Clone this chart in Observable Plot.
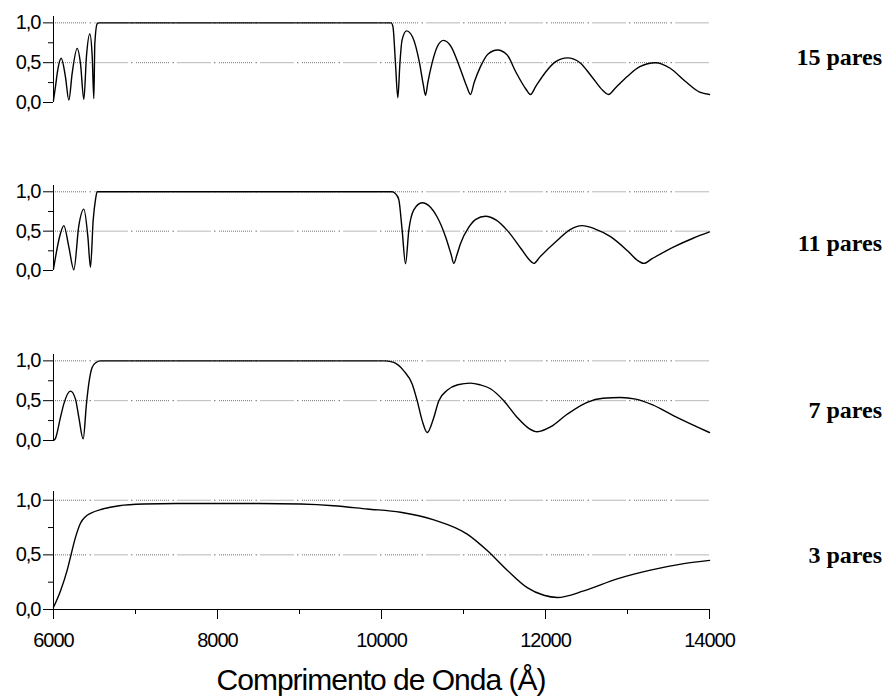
<!DOCTYPE html>
<html><head><meta charset="utf-8">
<script src="https://cdn.jsdelivr.net/npm/d3@7"></script>
<script src="https://cdn.jsdelivr.net/npm/@observablehq/plot@0.6"></script>
<style>
body{margin:0;background:#fff;}
#chart{position:relative;width:891px;height:697px;background:#fff;overflow:hidden;}
#chart svg{position:absolute;left:0;}
.lab{position:absolute;right:9px;font-family:"Liberation Serif","Times New Roman",serif;font-weight:bold;font-size:24px;line-height:24px;color:#000;white-space:nowrap;}
.xtitle{position:absolute;left:131px;width:500px;text-align:center;font-family:"Liberation Sans",Arial,sans-serif;font-size:30px;letter-spacing:-1px;line-height:34px;color:#000;}
</style></head><body><div id="chart"></div>
<script>
// ---- data (wavelength in Å, reflectance) ----
const wl15 = [6000, 6024, 6052, 6094, 6146, 6187, 6228, 6289, 6329, 6370, 6402, 6443, 6472, 6492, 6504, 6533, 6553,
  10118, 10140, 10170, 10199, 10225, 10250, 10305, 10380, 10463, 10510, 10537, 10565, 10618, 10680, 10756, 10850, 10951, 11040, 11085, 11130, 11207, 11300, 11415, 11530, 11640, 11760, 11817, 11880, 12000, 12120, 12268, 12420, 12560, 12700, 12768, 12850, 13000, 13150, 13341, 13520, 13700, 13880, 14000];
const r15 = [0.03, 0.20, 0.41, 0.555, 0.32, 0.03, 0.37, 0.68, 0.49, 0.04, 0.58, 0.86, 0.58, 0.05, 0.74, 0.99, 1.0,
  1.0, 0.95, 0.5, 0.06, 0.5, 0.78, 0.90, 0.82, 0.5, 0.22, 0.09, 0.25, 0.5, 0.70, 0.78, 0.70, 0.45, 0.2, 0.10, 0.25, 0.45, 0.61, 0.66, 0.60, 0.38, 0.17, 0.10, 0.2, 0.38, 0.51, 0.56, 0.50, 0.33, 0.15, 0.10, 0.18, 0.33, 0.45, 0.50, 0.43, 0.27, 0.13, 0.10];

const wl11 = [6000, 6085, 6126, 6187, 6248, 6309, 6370, 6419, 6451, 6484, 6512, 6533,
  10130, 10175, 10211, 10252, 10293, 10333, 10394, 10496, 10600, 10679, 10781, 10850, 10882, 10920, 10963, 11065, 11150, 11268, 11400, 11533, 11700, 11800, 11857, 11930, 12142, 12300, 12447, 12600, 12793, 13000, 13120, 13199, 13300, 13565, 13800, 14000];
const r11 = [0.02, 0.47, 0.57, 0.30, 0.01, 0.57, 0.78, 0.43, 0.04, 0.64, 0.90, 1.0,
  1.0, 0.97, 0.90, 0.51, 0.085, 0.51, 0.77, 0.86, 0.80, 0.68, 0.43, 0.2, 0.09, 0.2, 0.34, 0.55, 0.65, 0.69, 0.64, 0.51, 0.28, 0.14, 0.09, 0.17, 0.38, 0.52, 0.57, 0.53, 0.43, 0.25, 0.13, 0.09, 0.15, 0.30, 0.41, 0.49];

const wl7 = [6000, 6021, 6085, 6126, 6207, 6268, 6309, 6362, 6402, 6430, 6472, 6520, 6573,
  10049, 10150, 10272, 10374, 10435, 10496, 10557, 10638, 10699, 10801, 10930, 11085, 11200, 11329, 11491, 11655, 11800, 11899, 12061, 12264, 12508, 12700, 12914, 13100, 13300, 13565, 14000];
const r7 = [0.0, 0.02, 0.29, 0.46, 0.62, 0.52, 0.29, 0.02, 0.46, 0.71, 0.92, 0.98, 1.0,
  1.0, 0.98, 0.875, 0.71, 0.50, 0.25, 0.10, 0.29, 0.50, 0.63, 0.70, 0.72, 0.70, 0.65, 0.50, 0.29, 0.15, 0.11, 0.17, 0.33, 0.48, 0.53, 0.54, 0.52, 0.45, 0.31, 0.10];

const wl3 = [6000, 6085, 6167, 6207, 6268, 6329, 6390, 6451, 6600, 6800, 7100, 7500, 8500, 9012, 9415, 9826, 10232, 10638, 11045, 11289, 11533, 11777, 11980, 12143, 12467, 12874, 13280, 13687, 14000];
const r3 = [0.02, 0.17, 0.36, 0.48, 0.66, 0.79, 0.85, 0.88, 0.92, 0.95, 0.965, 0.97, 0.97, 0.965, 0.95, 0.92, 0.89, 0.82, 0.69, 0.54, 0.36, 0.20, 0.13, 0.11, 0.17, 0.28, 0.36, 0.42, 0.45];

const seriesLabels = ["15 pares", "11 pares", "7 pares", "3 pares"];
const yTicks = [0, 0.5, 1];
const yTickLabels = ["0,0", "0,5", "1,0"];
const yMinorTicks = [0.25, 0.75];
const gridLevels = [0.5, 1];
const xTicks = [6000, 8000, 10000, 12000, 14000];
const xMinorTicks = [7000, 9000, 11000, 13000];
const xTitle = "Comprimento de Onda (Å)";

// ---- layout (page pixel positions of 0,0 and 1,0 for each panel) ----
const layout = [
  {y0: 102, y1: 22.5, labelY: 57},
  {y0: 270, y1: 191, labelY: 243},
  {y0: 440, y1: 360, labelY: 410},
  {y0: 609, y1: 500, labelY: 555}
];
const EXT = 1.08;
const DASH = Array(16).fill("1,1").join(",") + ",1,3.5,1.5,3.5";
const chart = document.getElementById("chart");

function makePanel(wl, r, L, bottom) {
  const data = wl.map((w, i) => ({w, r: r[i]}));
  const span = L.y0 - L.y1;
  const mt = 6, mb = bottom ? 40 : 6;
  const plotH = EXT * span;
  const height = Math.round(mt + plotH + mb);
  const top = L.y0 - plotH - mt;
  const marks = [
    Plot.ruleY(gridLevels, {stroke: "#707070", strokeWidth: 1, strokeDasharray: DASH}),
    Plot.line(data, {x: "w", y: "r", curve: "monotone-x", stroke: "#000", strokeWidth: 1.4}),
    Plot.ruleX([6000], {stroke: "#000", strokeWidth: 1}),
    Plot.axisY(yTicks, {anchor: "left", tickSize: 10, tickPadding: 3, tickFormat: d => yTickLabels[yTicks.indexOf(d)], label: null, stroke: "#000"}),
    Plot.axisY(yMinorTicks, {anchor: "left", tickSize: 5, tickFormat: () => "", label: null, stroke: "#000"})
  ];
  if (bottom) {
    marks.push(
      Plot.ruleY([0], {stroke: "#000", strokeWidth: 1}),
      Plot.axisX(xTicks, {anchor: "bottom", tickSize: 10, tickPadding: 13, tickFormat: d => String(d), label: null, stroke: "#000"}),
      Plot.axisX(xMinorTicks, {anchor: "bottom", tickSize: 5, tickFormat: () => "", label: null, stroke: "#000"})
    );
  }
  const svg = Plot.plot({
    width: 891, height,
    marginLeft: 53, marginRight: 182, marginTop: mt, marginBottom: mb,
    x: {domain: [6000, 14000], axis: bottom ? undefined : null},
    y: {domain: [0, EXT]},
    style: "font-family:'Liberation Sans',Arial,sans-serif;font-size:20px;letter-spacing:-1px;background:transparent;overflow:visible;color:#000;",
    marks
  });
  svg.style.top = top + "px";
  chart.appendChild(svg);
}

const all = [[wl15, r15], [wl11, r11], [wl7, r7], [wl3, r3]];
all.forEach(([wl, r], i) => {
  makePanel(wl, r, layout[i], i === all.length - 1);
  const lab = document.createElement("div");
  lab.className = "lab";
  lab.textContent = seriesLabels[i];
  lab.style.top = (layout[i].labelY - 12) + "px";
  chart.appendChild(lab);
});

const t = document.createElement("div");
t.className = "xtitle";
t.textContent = xTitle;
t.style.top = (680 - 17) + "px";
chart.appendChild(t);
</script></body></html>
